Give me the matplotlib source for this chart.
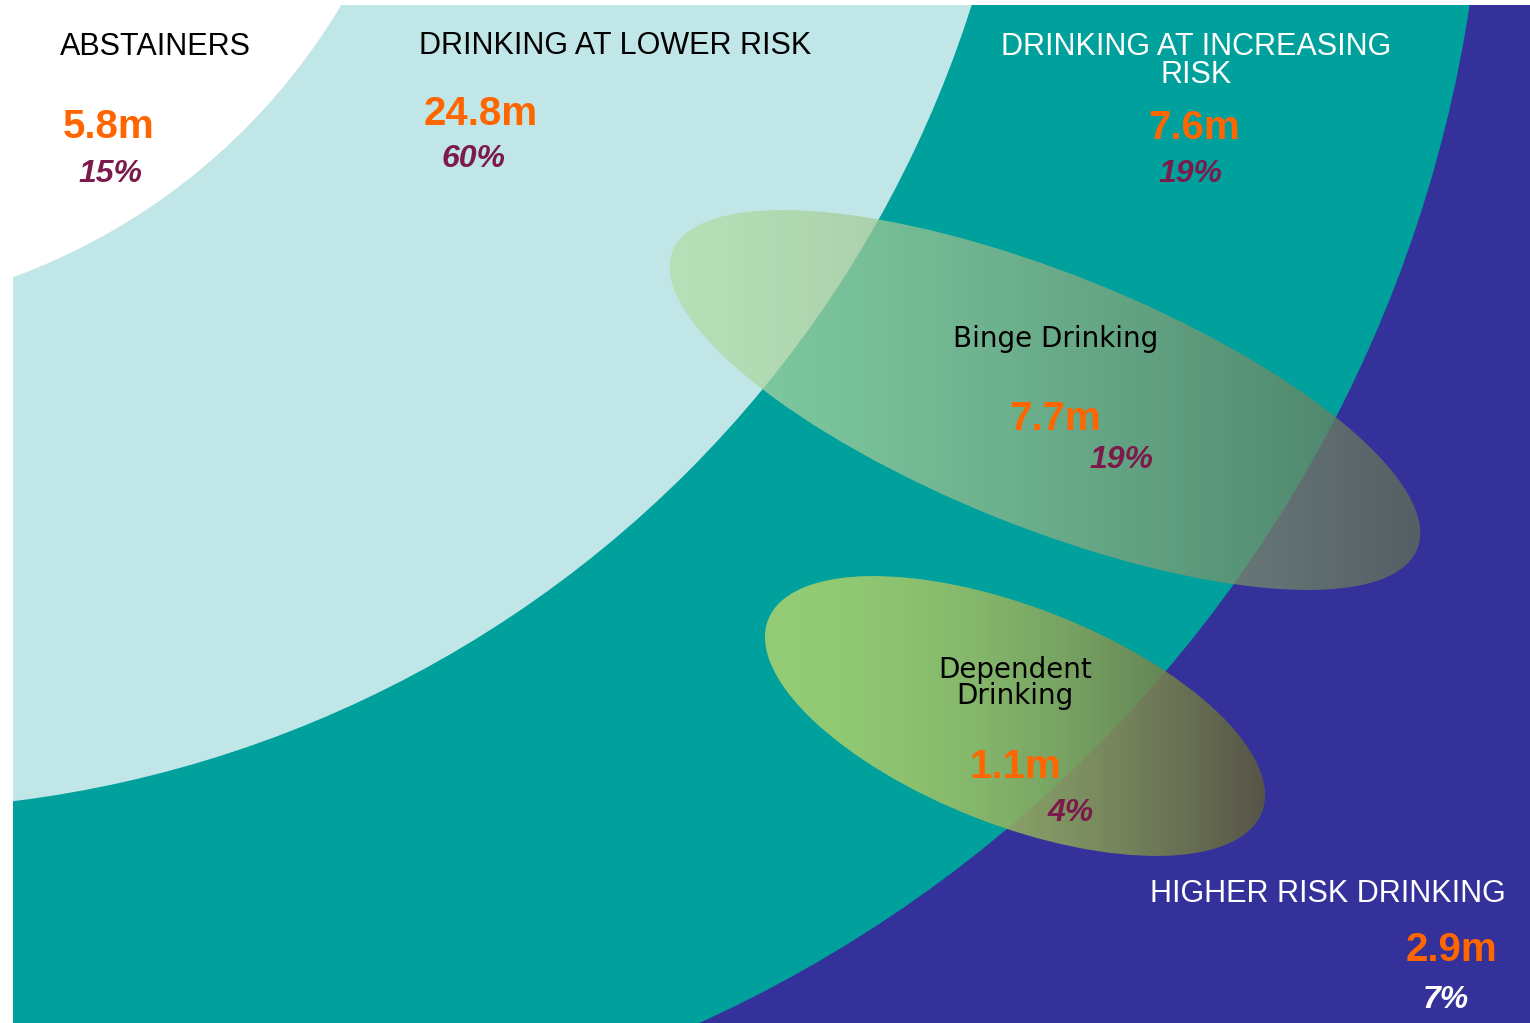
import numpy as np
import matplotlib.pyplot as plt
from matplotlib.patches import Circle, Ellipse, Rectangle

# drinking categories (outer bands) and the two overlapping sub-groups
categories = ["ABSTAINERS", "DRINKING AT LOWER RISK", "DRINKING AT INCREASING\nRISK", "HIGHER RISK DRINKING"]
millions = [5.8, 24.8, 7.6, 2.9]
shares = [15, 60, 19, 7]

groups = ["Binge Drinking", "Dependent\nDrinking"]
group_millions = [7.7, 1.1]
group_shares = [19, 4]

ORANGE = "#ff6600"
MAROON = "#7b1a4b"
W, H = 1530, 1023

fig = plt.figure(figsize=(15.3, 10.23), dpi=100)
ax = fig.add_axes([0, 0, 1, 1])
ax.set_xlim(0, W)
ax.set_ylim(H, 0)
ax.axis("off")

# background bands (circles centred off the top-left corner)
frame = Rectangle((13, 5), W - 13, H - 5, facecolor="#34329a", edgecolor="none")
ax.add_patch(frame)
bands = [((145, -197), 1340, "#00a09c"),
         ((-129, -345), 1155, "#c1e6e8"),
         ((-206, -321), 637, "#ffffff")]
for centre, r, col in bands:
    c = Circle(centre, r, facecolor=col, edgecolor="none")
    ax.add_patch(c)
    c.set_clip_path(frame)


def gradient_ellipse(cx, cy, a, b, ang, halfw, c0, c1, alpha, power):
    e = Ellipse((cx, cy), 2 * a, 2 * b, angle=ang, facecolor="none", edgecolor="none")
    ax.add_patch(e)
    x0, x1, y0, y1 = cx - a, cx + a, cy - a, cy + a
    xs = np.linspace(x0, x1, 400)
    ys = np.linspace(y0, y1, 400)
    X, Y = np.meshgrid(xs, ys)
    # horizontal blend, left -> right
    s = np.clip((X - (cx - halfw)) / (2 * halfw), 0, 1) ** power
    s = s[..., None]
    rgb = np.array(c0) / 255 * (1 - s) + np.array(c1) / 255 * s
    img = np.dstack([rgb, np.full(X.shape, alpha)])
    im = ax.imshow(img, extent=(x0, x1, y0, y1), origin="lower", interpolation="bilinear", zorder=2)
    im.set_clip_path(e)


gradient_ellipse(1045, 400, 401, 127, 21.8, 375, (178, 222, 165), (98, 112, 82), 0.73, 1.3)
gradient_ellipse(1015, 716, 265, 109, 21.3, 250, (172, 212, 110), (92, 90, 58), 0.86, 1.8)

head = dict(family="Liberation Sans", fontsize=22, zorder=5)
num = dict(family="Liberation Sans", fontsize=29, fontweight="bold", color=ORANGE, zorder=5)
pct = dict(family="Liberation Sans", fontsize=23, fontweight="bold", style="italic", zorder=5)

# category labels
ax.text(60, 47, categories[0], ha="left", va="center", color="black", **head)
ax.text(109, 127, f"{millions[0]}m", ha="center", va="center", **num)
ax.text(110, 174, f"{shares[0]}%", ha="center", va="center", color=MAROON, **pct)

ax.text(419, 46, categories[1], ha="left", va="center", color="black", **head)
ax.text(481, 114, f"{millions[1]}m", ha="center", va="center", **num)
ax.text(474, 159, f"{shares[1]}%", ha="center", va="center", color=MAROON, **pct)

ax.text(1196, 61, categories[2], ha="center", va="center", color="white", linespacing=0.88, **head)
ax.text(1194, 128, f"{millions[2]}m", ha="center", va="center", **num)
ax.text(1190, 174, f"{shares[2]}%", ha="center", va="center", color=MAROON, **pct)

ax.text(1328, 894, categories[3], ha="center", va="center", color="white", **head)
ax.text(1452, 950, f"{millions[3]}m", ha="center", va="center", **num)
ax.text(1446, 1000, f"{shares[3]}%", ha="center", va="center", color="white", **pct)

# sub-group labels
sub = dict(family="DejaVu Sans", fontsize=20, color="black", zorder=5)
ax.text(1056, 339, groups[0], ha="center", va="center", **sub)
ax.text(1055, 419, f"{group_millions[0]}m", ha="center", va="center", **num)
ax.text(1121, 460, f"{group_shares[0]}%", ha="center", va="center", color=MAROON, **pct)

ax.text(1015, 683, groups[1], ha="center", va="center", linespacing=0.9, **sub)
ax.text(1015, 767, f"{group_millions[1]}m", ha="center", va="center", **num)
ax.text(1071, 813, f"{group_shares[1]}%", ha="center", va="center", color=MAROON, **pct)

fig.savefig("out.png", dpi=100)
